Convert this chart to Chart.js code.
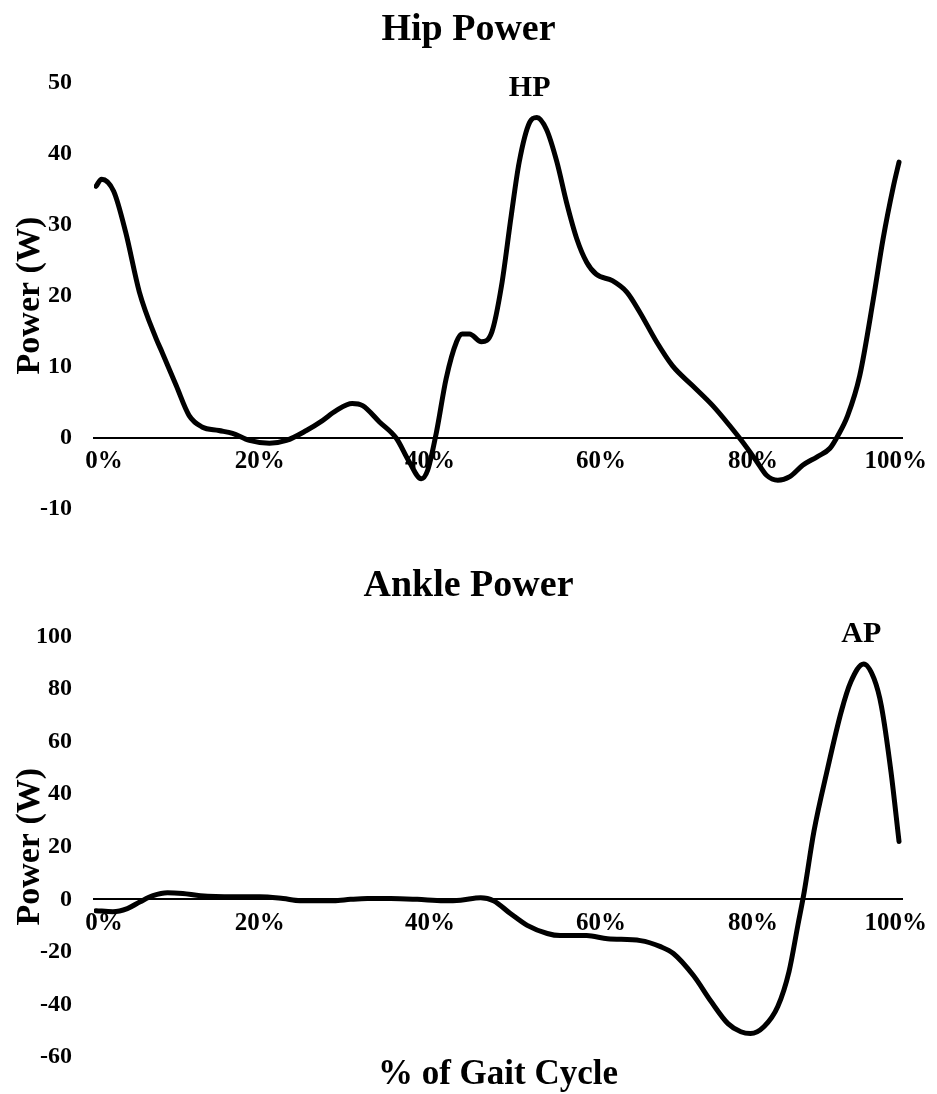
<!DOCTYPE html>
<html>
<head>
<meta charset="utf-8">
<script src="https://cdn.jsdelivr.net/npm/chart.js@4.4.0/dist/chart.umd.min.js"></script>
<style>
  html, body { margin: 0; padding: 0; background: #fff; }
  #wrap { position: relative; width: 937px; height: 1094px; }
  canvas { position: absolute; left: 0; }
</style>
</head>
<body>
<div id="wrap">
  <canvas id="hipChart" width="937" height="545"></canvas>
  <canvas id="ankleChart" width="937" height="549"></canvas>
</div>
<script>
// hip power over the gait cycle (x = % of cycle, y = W)
const hipCycle = [0, 0.7, 2.2, 3.7, 5.4, 7.5, 8.2, 10.0, 11.6, 13.2, 15.3, 17.0, 19.1, 21.6, 23.7,
  26.2, 28.2, 29.9, 31.9, 33.2, 35.3, 37.4, 39.0, 40.5, 41.3, 42.4, 43.6, 44.9, 45.6, 46.5, 48.0,
  49.3, 50.5, 51.7, 52.7, 54.0, 54.9, 56.1, 57.4, 58.6, 59.9, 61.1, 62.3, 64.3, 66.1, 67.7, 69.8,
  71.8, 74.3, 76.8, 78.9, 80.5, 82.3, 83.5, 84.9, 86.4, 88.0, 89.8, 91.4, 92.4, 93.6, 95.1, 96.8,
  98.0, 99.3, 100];
const hipPower = [35.4, 36.4, 34.7, 28.9, 20.5, 13.9, 12.1, 7.3, 3.1, 1.5, 1.0, 0.6, -0.4, -0.8, -0.4,
  1.0, 2.4, 3.8, 4.8, 4.5, 2.2, -0.1, -3.4, -5.8, -4.6, 0.8, 8.3, 13.5, 14.6, 14.6, 13.5,
  14.9, 21.4, 31.2, 38.8, 44.4, 45.1, 43.4, 38.8, 33.1, 27.9, 24.7, 23.0, 22.1, 20.5, 17.7, 13.5,
  10.1, 7.3, 4.5, 1.7, -0.6, -3.4, -5.3, -6.0, -5.5, -3.9, -2.7, -1.5, 0.3, 3.1, 8.7, 19.5,
  27.9, 35.4, 38.8];

// ankle power over the gait cycle
const ankleCycle = [0, 2.1, 3.9, 5.5, 7.1, 8.9, 10.8, 13.0, 17.1, 20.4, 23.3, 25.4, 29.6, 31.7, 33.8,
  36.7, 40.0, 43.3, 45.4, 47.9, 49.5, 51.6, 53.7, 56.2, 57.8, 61.1, 63.7, 67.8, 70.3, 71.9, 74.4,
  76.6, 78.7, 80.3, 81.5, 83.2, 84.9, 86.3, 87.4, 88.2, 89.4, 91.1, 92.8, 94.0, 95.6, 96.9, 97.8,
  99.0, 100];
const anklePower = [-4.3, -4.7, -3.5, -0.9, 1.4, 2.5, 2.2, 1.4, 1.0, 1.0, 0.3, -0.5, -0.5, 0, 0.3,
  0.3, 0, -0.5, -0.3, 0.6, -0.5, -5.4, -9.9, -13.0, -13.8, -13.8, -15.0, -15.7, -18.0, -20.6, -29.0,
  -38.9, -47.3, -50.4, -51.1, -48.4, -40.8, -27.5, -9.9, 3.0, 25.8, 49.7, 71.4, 82.8, 89.6, 83.9, 73.6,
  48.5, 22];

const xTickLabels = ['0%', '20%', '40%', '60%', '80%', '100%'];

Chart.defaults.font.family = '"Liberation Serif", "Times New Roman", serif';
Chart.defaults.font.weight = 'bold';
Chart.defaults.color = '#000';

// labels sit where the original figure put them along the axis
const xTickAt = [1, 20.4, 41.6, 62.9, 81.8, 99.6];

function peakLabel(text, x, y) {
  return {
    id: 'peakLabel',
    afterDatasetsDraw(chart) {
      const { ctx, scales } = chart;
      ctx.save();
      ctx.font = 'bold 30px "Liberation Serif", serif';
      ctx.fillStyle = '#000';
      ctx.textAlign = 'center';
      ctx.textBaseline = 'middle';
      ctx.fillText(text, scales.x.getPixelForValue(x), scales.y.getPixelForValue(y));
      ctx.restore();
    }
  };
}

function makeChart(id, cycle, power, opts) {
  const canvas = document.getElementById(id);
  canvas.style.top = opts.top + 'px';
  return new Chart(canvas, {
    type: 'line',
    data: {
      datasets: [{
        data: cycle.map((x, i) => ({ x: x, y: power[i] })),
        borderColor: '#000',
        borderWidth: 5,
        pointRadius: 0,
        cubicInterpolationMode: 'monotone',
        borderCapStyle: 'round',
        borderJoinStyle: 'round'
      }]
    },
    options: {
      responsive: false,
      animation: false,
      layout: { padding: { left: 35, right: 35, top: 0, bottom: opts.padBottom } },
      plugins: {
        legend: { display: false },
        tooltip: { enabled: false },
        title: {
          display: true,
          text: opts.title,
          font: { size: 38, weight: 'bold' },
          padding: opts.titlePad
        },
        subtitle: opts.subtitle || { display: false }
      },
      scales: {
        x: {
          type: 'linear',
          min: -0.25,
          max: 100.37,
          position: { y: 0 },
          grid: { display: false, drawTicks: false },
          border: { display: true, color: '#000', width: 2 },
          afterBuildTicks: scale => { scale.ticks = xTickAt.map(v => ({ value: v })); },
          ticks: {
            autoSkip: false,
            maxRotation: 0,
            padding: 9,
            font: { size: 25, weight: 'bold' },
            callback: (v, i) => xTickLabels[i]
          }
        },
        y: {
          min: opts.yMin,
          max: opts.yMax,
          grid: { display: false, drawTicks: false },
          border: { display: false },
          afterFit: scale => { scale.width = 59; },
          ticks: {
            stepSize: opts.yStep,
            padding: 22,
            font: { size: 24, weight: 'bold' }
          },
          title: {
            display: true,
            text: 'Power (W)',
            font: { size: 34, weight: 'bold' },
            padding: { top: -25, bottom: 0 }
          }
        }
      }
    },
    plugins: [peakLabel(opts.peak.text, opts.peak.x, opts.peak.y)]
  });
}

makeChart('hipChart', hipCycle, hipPower, {
  top: 0,
  title: 'Hip Power',
  titlePad: { top: 7, bottom: 30 },
  padBottom: 35,
  yMin: -10, yMax: 50, yStep: 10,
  peak: { text: 'HP', x: 54, y: 49.2 }
});

makeChart('ankleChart', ankleCycle, anklePower, {
  top: 545,
  title: 'Ankle Power',
  titlePad: { top: 18, bottom: 28 },
  padBottom: 0,
  yMin: -60, yMax: 100, yStep: 20,
  peak: { text: 'AP', x: 95.3, y: 101 },
  subtitle: {
    display: true,
    text: '% of Gait Cycle',
    position: 'bottom',
    fullSize: false,
    font: { size: 35, weight: 'bold', lineHeight: 1.0 },
    padding: { top: 0, bottom: 2 }
  }
});
</script>
</body>
</html>
